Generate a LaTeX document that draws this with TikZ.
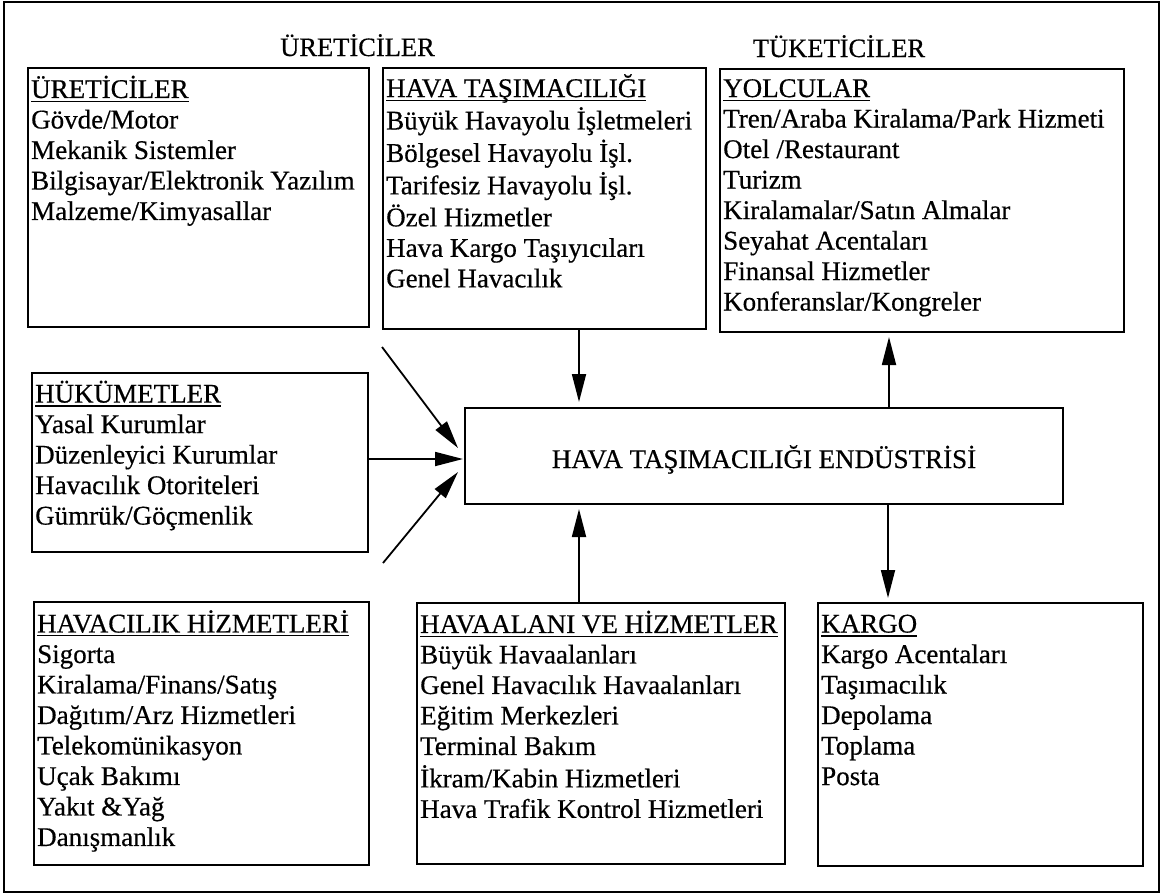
\documentclass[tikz,border=0pt]{standalone}
\usepackage{fontspec}
\setmainfont[FakeBold=0.5]{Liberation Serif}
\usetikzlibrary{arrows.meta,calc}
% underlined heading with the rule at a fixed depth
\newsavebox\hdbox
\newcommand\hd[1]{\strut\sbox\hdbox{#1}\rlap{\rule[-4pt]{\wd\hdbox}{1.3pt}}\usebox\hdbox}
\begin{document}
\begin{tikzpicture}[x=1pt,y=-1pt,
  box/.style={draw, line width=1.7pt, inner sep=0pt, outer sep=0pt, anchor=north west},
  lst/.style={inner sep=0pt, anchor=north west, align=left, font=\fontsize{27pt}{30.5pt}\selectfont},
  ttl/.style={inner sep=0pt, anchor=base, font=\fontsize{26.5pt}{30.5pt}\selectfont},
  arr/.style={line width=1.8pt, -{Triangle[length=28pt,width=14pt]}}]
\useasboundingbox (0,0) rectangle (1165,895);

% outer frame
\node[box, minimum width=1155pt, minimum height=890pt] (frame) at (4,2) {};

% group titles
\node[ttl] (ttlP) at (357.5,56) {ÜRETİCİLER};
\node[ttl] (ttlC) at (839,57) {TÜKETİCİLER};

% boxes
\node[box, minimum width=341pt, minimum height=259pt] (b1) at (28,68) {};
\node[box, minimum width=323pt, minimum height=261pt] (b2) at (383,68) {};
\node[box, minimum width=404pt, minimum height=263pt] (b3) at (720,69) {};
\node[box, minimum width=336pt, minimum height=179pt] (huk) at (32,373) {};
\node[box, minimum width=598pt, minimum height=96pt] (ind) at (465,408) {};
\node[box, minimum width=335pt, minimum height=263pt] (hav) at (34,602) {};
\node[box, minimum width=368pt, minimum height=261pt] (apt) at (417,603) {};
\node[box, minimum width=325pt, minimum height=263pt] (kargo) at (818,603) {};

% box contents
\node[lst] (t1) at ([shift={(3pt,-7.5pt)}]b1.north west) {\hd{ÜRETİCİLER}\\
\strut Gövde/Motor\\ \strut Mekanik Sistemler\\ \strut Bilgisayar/Elektronik Yazılım\\
\strut Malzeme/Kimyasallar};
\node[lst] (t2) at ([shift={(3pt,-6pt)}]b2.north west) {\hd{HAVA TAŞIMACILIĞI}\\
\strut Büyük Havayolu İşletmeleri\\ \strut Bölgesel Havayolu İşl.\\ \strut Tarifesiz Havayolu İşl.\\
\strut Özel Hizmetler\\ \strut Hava Kargo Taşıyıcıları\\ \strut Genel Havacılık};
\node[lst] (t3) at ([shift={(3pt,-6.5pt)}]b3.north west) {\hd{YOLCULAR}\\
\strut Tren/Araba Kiralama/Park Hizmeti\\ \strut Otel /Restaurant\\ \strut Turizm\\
\strut Kiralamalar/Satın Almalar\\ \strut Seyahat Acentaları\\ \strut Finansal Hizmetler\\
\strut Konferanslar/Kongreler};
\node[lst] (t4) at ([shift={(3pt,-7.5pt)}]huk.north west) {\hd{HÜKÜMETLER}\\
\strut Yasal Kurumlar\\ \strut Düzenleyici Kurumlar\\ \strut Havacılık Otoriteleri\\
\strut Gümrük/Göçmenlik};
\node[lst] (t5) at ([shift={(3pt,-8pt)}]hav.north west) {\hd{HAVACILIK HİZMETLERİ}\\
\strut Sigorta\\ \strut Kiralama/Finans/Satış\\ \strut Dağıtım/Arz Hizmetleri\\
\strut Telekomünikasyon\\ \strut Uçak Bakımı\\ \strut Yakıt \&Yağ\\ \strut Danışmanlık};
\node[lst] (t6) at ([shift={(3pt,-7.5pt)}]apt.north west) {\hd{HAVAALANI VE HİZMETLER}\\
\strut Büyük Havaalanları\\ \strut Genel Havacılık Havaalanları\\ \strut Eğitim Merkezleri\\
\strut Terminal Bakım\\ \strut İkram/Kabin Hizmetleri\\ \strut Hava Trafik Kontrol Hizmetleri};
\node[lst] (t7) at ([shift={(3pt,-8pt)}]kargo.north west) {\hd{KARGO}\\
\strut Kargo Acentaları\\ \strut Taşımacılık\\ \strut Depolama\\ \strut Toplama\\ \strut Posta};
\node[ttl, font=\fontsize{27pt}{30.5pt}\selectfont] (tind) at ([yshift=-12pt]ind.center) {HAVA TAŞIMACILIĞI ENDÜSTRİSİ};

% connectors
\coordinate (d1) at (382,347);
\coordinate (d2) at (383,563);
\draw[arr] (d1) -- ($(ind.west)+(-7,-8)$);
\draw[arr, shorten >=2pt] ([yshift=3.5pt]huk.east) -- ([yshift=3.5pt]huk.east -| ind.west);
\draw[arr] (d2) -- ($(ind.west)+(-7,16)$);
\draw[arr, shorten >=6pt] ([xshift=196pt]b2.south west) -- ([xshift=196pt]b2.south west |- ind.north);
\draw[arr, shorten >=5pt] ([xshift=162pt]apt.north west) -- ([xshift=162pt]apt.north west |- ind.south);
\draw[arr, shorten >=5pt] ([xshift=169pt]b3.south west |- ind.north) -- ([xshift=169pt]b3.south west);
\draw[arr, shorten >=5pt] ([xshift=70pt]kargo.north west |- ind.south) -- ([xshift=70pt]kargo.north west);
\end{tikzpicture}
\end{document}
